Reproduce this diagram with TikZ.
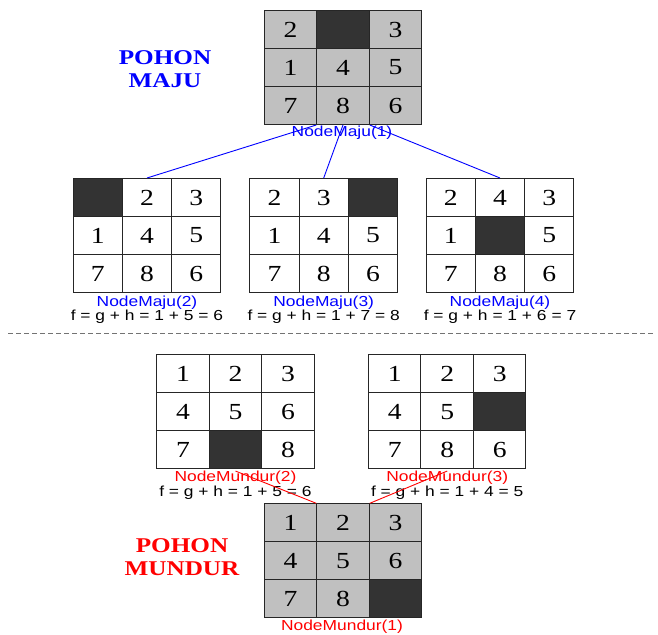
\documentclass[tikz,border=0pt]{standalone}
\usepackage{fontspec}
\setmainfont[FakeStretch=1.2]{Liberation Serif}
\setsansfont[FakeStretch=1.2]{Liberation Sans}
\usetikzlibrary{matrix,positioning}

\definecolor{tilegrey}{HTML}{C0C0C0}
\definecolor{tiledark}{HTML}{333333}
\definecolor{majublue}{HTML}{0000FF}
\definecolor{mundurred}{HTML}{FF0000}

\tikzset{
  cell/.style={draw=black!85, line width=1pt, minimum width=#1, minimum height=38pt, inner sep=0pt, anchor=center, font=\fontsize{23}{23}\selectfont},
  puzzle/.style={matrix of nodes, nodes in empty cells, column sep=-1pt, row sep=-1pt, nodes={cell=#1}},
  greyed/.style={nodes={fill=tilegrey}},
  hole/.style={fill=tiledark},
  lab/.style={font=\sffamily\fontsize{14.5}{14.5}\selectfont, inner sep=0pt},
  title/.style={font=\bfseries\fontsize{21}{23.5}\selectfont, align=center},
}

\begin{document}
\begin{tikzpicture}[x=1pt, y=-1pt]
\useasboundingbox (0,0) rectangle (658,634);

% pohon maju
\node[title, text=majublue] (majutitle) at (165,69) {POHON\\MAJU};
\matrix (m1) at (343,67.5) [puzzle=52.5pt, greyed] {
  2 & |[hole]| & 3 \\
  1 & 4 & 5 \\
  7 & 8 & 6 \\
};
\node[lab, text=majublue] (m1lab) at (342,133) {NodeMaju(1)};

\matrix (m2) at (147,235.5) [puzzle=49.2pt] {
  |[hole]| & 2 & 3 \\
  1 & 4 & 5 \\
  7 & 8 & 6 \\
};
\matrix (m3) at (323.7,235.5) [puzzle=49.2pt] {
  2 & 3 & |[hole]| \\
  1 & 4 & 5 \\
  7 & 8 & 6 \\
};
\matrix (m4) at (500,235.5) [puzzle=49.2pt] {
  2 & 4 & 3 \\
  1 & |[hole]| & 5 \\
  7 & 8 & 6 \\
};
\node[lab, text=majublue] (m2lab) at (147,303) {NodeMaju(2)};
\node[lab] (m2f) at (147,317) {f = g + h = 1 + 5 = 6};
\node[lab, text=majublue] (m3lab) at (323.7,303) {NodeMaju(3)};
\node[lab] (m3f) at (323.7,317) {f = g + h = 1 + 7 = 8};
\node[lab, text=majublue] (m4lab) at (500,303) {NodeMaju(4)};
\node[lab] (m4f) at (500,317) {f = g + h = 1 + 6 = 7};

\draw[majublue, line width=0.9pt] (m1-3-2.south west) -- (m2-1-2.north);
\draw[majublue, line width=0.9pt] (m1-3-2.south) -- (m3-1-2.north);
\draw[majublue, line width=0.9pt] (m1-3-2.south east) -- (m4-1-2.north);

\draw[black!55, dash pattern=on 5pt off 3pt] (8,333) -- (655,333);

% pohon mundur
\matrix (u2) at (235.5,411.7) [puzzle=52.5pt] {
  1 & 2 & 3 \\
  4 & 5 & 6 \\
  7 & |[hole]| & 8 \\
};
\matrix (u3) at (447.2,411.7) [puzzle=52.5pt] {
  1 & 2 & 3 \\
  4 & 5 & |[hole]| \\
  7 & 8 & 6 \\
};
\node[lab, text=mundurred] (u2lab) at (235.5,478) {NodeMundur(2)};
\node[lab] (u2f) at (235.5,493) {f = g + h = 1 + 5 = 6};
\node[lab, text=mundurred] (u3lab) at (447.2,478) {NodeMundur(3)};
\node[lab] (u3f) at (447.2,493) {f = g + h = 1 + 4 = 5};

\node[title, text=mundurred] (mundurtitle) at (182,557) {POHON\\MUNDUR};
\matrix (u1) at (343,560.8) [puzzle=52.5pt, greyed] {
  1 & 2 & 3 \\
  4 & 5 & 6 \\
  7 & 8 & |[hole]| \\
};
\node[lab, text=mundurred] (u1lab) at (342,627) {NodeMundur(1)};

\draw[mundurred, line width=0.9pt] (u1-1-2.north west) -- (u2lab.north);
\draw[mundurred, line width=0.9pt] (u1-1-2.north east) -- (u3lab.north);
\end{tikzpicture}
\end{document}
